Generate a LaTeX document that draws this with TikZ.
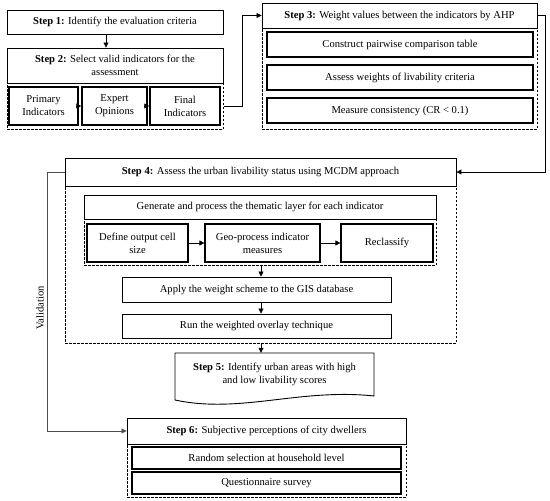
\documentclass[tikz,border=0pt]{standalone}
\usepackage{fontspec}
\setmainfont{Liberation Serif}
\usetikzlibrary{arrows.meta}
\begin{document}
\begin{tikzpicture}[x=1pt,y=-1pt,font=\fontsize{10.6}{13}\selectfont,
  tbox/.style={draw, line width=0.9pt, fill=white, align=center, inner sep=1pt},
  ibox/.style={draw, line width=1.5pt, fill=white, align=center, inner sep=1pt},
  dbox/.style={draw, line width=1pt, dash pattern=on 2.5pt off 1.5pt},
  arr/.style={-{Triangle[length=5pt,width=5pt]}, line width=0.8pt}]
\useasboundingbox (0,0) rectangle (550,501);
% Step 1 & 2
\node[tbox, minimum width=216, minimum height=24] (s1) at (115,22) {\textbf{Step 1:} Identify the evaluation criteria};
\node[dbox, minimum width=216, minimum height=46] (s2c) at (115,106) {};
\node[tbox, minimum width=216, minimum height=35] (s2) at (115,65.5) {\textbf{Step 2:} Select valid indicators for the\\assessment};
\node[ibox, minimum width=69, minimum height=38] (p1) at (43.5,106) {Primary\\Indicators};
\node[ibox, minimum width=65, minimum height=38] (p2) at (114.5,106) {Expert\\Opinions};
\node[ibox, minimum width=70, minimum height=38] (p3) at (185,106) {Final\\Indicators};
% Step 3
\node[dbox, minimum width=275, minimum height=101] (s3c) at (399.5,78.5) {};
\node[tbox, minimum width=275, minimum height=25] (s3) at (399.5,15.5) {\textbf{Step 3:} Weight values between the indicators by AHP};
\node[ibox, minimum width=266, minimum height=25] (c1) at (400,44.5) {Construct pairwise comparison table};
\node[ibox, minimum width=266, minimum height=25] (c2) at (400,77.5) {Assess weights of livability criteria};
\node[ibox, minimum width=266, minimum height=25] (c3) at (400,110.5) {Measure consistency (CR < 0.1)};
% Step 4
\node[dbox, minimum width=391, minimum height=157] (s4c) at (260.5,264.5) {};
\node[tbox, minimum width=391, minimum height=28] (s4) at (260.5,172) {\textbf{Step 4:} Assess the urban livability status using MCDM approach};
\node[dbox, minimum width=352, minimum height=46] (gc) at (260,242) {};
\node[tbox, minimum width=352, minimum height=24] (g) at (260,207) {Generate and process the thematic layer for each indicator};
\node[ibox, line width=1.2pt, minimum width=101, minimum height=38] (d1) at (137.5,243) {Define output cell\\size};
\node[ibox, line width=1.2pt, minimum width=115, minimum height=38] (d2) at (262.5,243) {Geo-process indicator\\measures};
\node[ibox, line width=1.2pt, minimum width=92, minimum height=38] (d3) at (387,243) {Reclassify};
\node[tbox, minimum width=269, minimum height=25] (ap) at (256.5,289.5) {Apply the weight scheme to the GIS database};
\node[tbox, minimum width=269, minimum height=24] (rn) at (256.5,326) {Run the weighted overlay technique};
% Step 5
\draw[line width=0.9pt] (175,353) -- (374,353) -- (374,396) .. controls (300,388) and (240,414) .. (175,400) -- cycle;
\node[align=center, inner sep=0pt, minimum width=199, minimum height=42] (s5) at (274.5,374) {\textbf{Step 5:} Identify urban areas with high\\and low livability scores};
% Step 6
\node[dbox, minimum width=279, minimum height=53] (s6c) at (266.5,470.5) {};
\node[tbox, minimum width=279, minimum height=26] (s6) at (266.5,431) {\textbf{Step 6:} Subjective perceptions of city dwellers};
\node[ibox, minimum width=269, minimum height=22] (r1) at (266.5,458) {Random selection at household level};
\node[ibox, minimum width=269, minimum height=22] (r2) at (266.5,483) {Questionnaire survey};
% connectors
\coordinate (x1) at (106,0);
\coordinate (mx) at (261,0);
\coordinate (rr) at (545,0);
\coordinate (vl) at (47,0);
\draw[arr] (s1.south -| x1) -- (s2.north -| x1);
\draw[arr] (p1) -- (p2);
\draw[arr] (p2) -- (p3);
\draw[arr] (s2c.east) -- ++(19,0) |- (s3.west);
\draw[arr] (s3.east) -| (rr |- s4.east) -- (s4.east);
\draw[arr] (d1) -- (d2);
\draw[arr] (d2) -- (d3);
\draw[arr] (gc.south -| mx) -- (ap.north -| mx);
\draw[arr] (ap.south -| mx) -- (rn.north -| mx);
\draw[arr] (s4c.south -| mx) -- (s5.north -| mx);
\draw[arr, black!70] (s4.west) -- (vl |- s4.west) -- (vl |- s6.west) -- (s6.west);
\node[rotate=90] (val) at (40,308) {Validation};
\end{tikzpicture}
\end{document}
